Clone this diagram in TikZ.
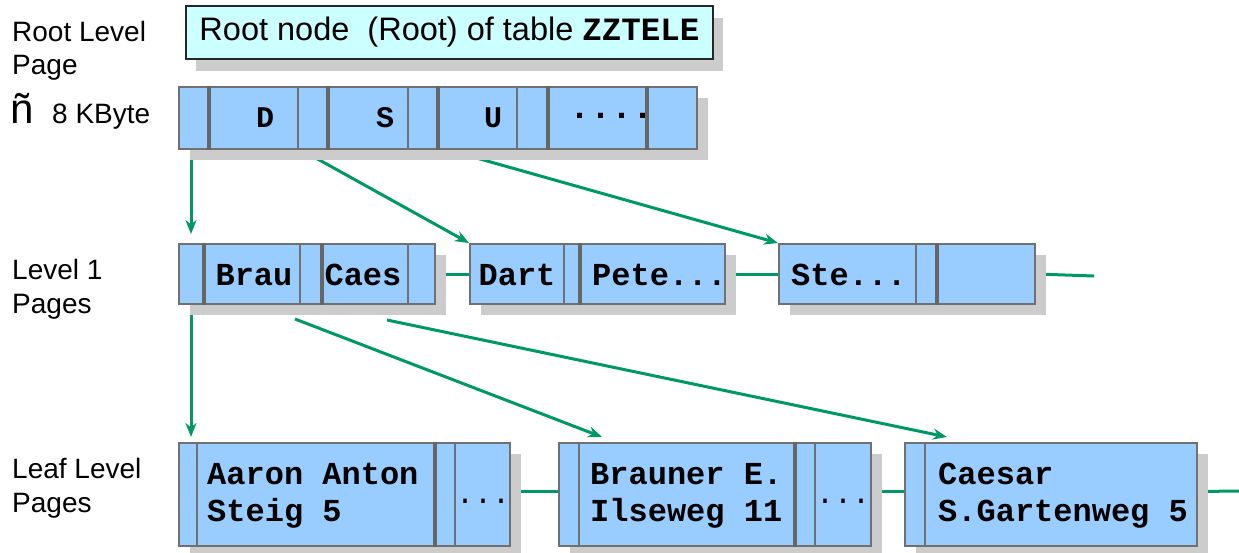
\documentclass[tikz,border=0pt]{standalone}
\usepackage{fontspec}
\setmainfont{Liberation Sans}
\setmonofont{Liberation Mono}
\usetikzlibrary{arrows.meta,shadows}
\pgfdeclarelayer{background}
\pgfsetlayers{background,main}
\definecolor{boxblue}{HTML}{99CCFF}
\definecolor{titlecyan}{HTML}{CCFFFF}
\definecolor{bordergray}{HTML}{707070}
\definecolor{divgray}{HTML}{666666}
\definecolor{shadowgray}{HTML}{CCCCCC}
\definecolor{linkgreen}{HTML}{009966}
\newcommand\pdiv[3]{\draw[#1] (#2,0 |- #3.north) -- (#2,0 |- #3.south);}
\tikzset{
  pagebox/.style={draw=bordergray, line width=2pt, fill=boxblue, inner sep=0pt,
    drop shadow={shadow xshift=11pt, shadow yshift=-11pt, fill=shadowgray, opacity=1}},
  titlebox/.style={draw=black!85, line width=1.3pt, fill=titlecyan, inner sep=0pt,
    minimum width=527pt, minimum height=53pt,
    font=\fontsize{32.5}{35}\selectfont,
    drop shadow={shadow xshift=10pt, shadow yshift=-12pt, fill=shadowgray, opacity=1}},
  thickdiv/.style={draw=divgray, line width=4pt},
  thindiv/.style={draw=bordergray, line width=1.6pt},
  key/.style={font=\ttfamily\bfseries\fontsize{32}{34}\selectfont, inner sep=0pt},
  rkey/.style={font=\ttfamily\bfseries\fontsize{30}{32}\selectfont, inner sep=0pt},
  leaftxt/.style={font=\ttfamily\bfseries\fontsize{32}{34}\selectfont, inner sep=0pt, anchor=base west},
  dots/.style={font=\ttfamily\fontsize{30}{32}\selectfont, inner sep=0pt, anchor=base},
  lbl/.style={font=\fontsize{28}{30}\selectfont, inner sep=0pt, anchor=base west},
  link/.style={draw=linkgreen, line width=3pt},
  arr/.style={draw=linkgreen, line width=3pt, -{Stealth[length=14pt,width=11pt]}}
}
\begin{document}
\begin{tikzpicture}[x=1pt,y=-1pt]
\useasboundingbox (0,0) rectangle (1239,552);

% left labels
\node[lbl] (t1) at (12,41) {Root Level};
\node[lbl] (t2) at (12,74) {Page};
\node[font=\fontsize{42}{44}\selectfont, inner sep=0pt, anchor=base west] (t3) at (10,123) {ñ};
\node[lbl] (t4) at (52,123) {8 KByte};
\node[lbl] (t5) at (12,279) {Level 1};
\node[lbl] (t6) at (12,313) {Pages};
\node[lbl] (t7) at (12,478) {Leaf Level};
\node[lbl] (t8) at (12,512) {Pages};

% title
\node[titlebox] (title) at (449.5,32.5) {Root node\ \ (Root) of table \texttt{\bfseries ZZTELE}};

% root page
\node[pagebox, minimum width=518pt, minimum height=62pt] (rp) at (438,118) {};
\pdiv{thickdiv}{209}{rp}
\pdiv{thindiv}{298}{rp}
\pdiv{thickdiv}{328}{rp}
\pdiv{thindiv}{408}{rp}
\pdiv{thickdiv}{438}{rp}
\pdiv{thindiv}{517}{rp}
\pdiv{thickdiv}{548}{rp}
\pdiv{thickdiv}{647}{rp}
\node[rkey] (kD) at (265,118) {D};
\node[rkey] (kS) at (385,118) {S};
\node[rkey] (kU) at (493,118) {U};
\node[rkey, font=\ttfamily\bfseries\fontsize{35}{36}\selectfont] (kdots) at (611,116) {....};

% level 1 pages
\node[pagebox, minimum width=256pt, minimum height=60pt] (la) at (307,274) {};
\pdiv{thickdiv}{204}{la}
\pdiv{thindiv}{300}{la}
\pdiv{thickdiv}{322}{la}
\pdiv{thindiv}{408}{la}
\node[key] (kBrau) at (254,275) {Brau};
\node[key] (kCaes) at (363,275) {Caes};

\node[pagebox, minimum width=255pt, minimum height=60pt] (lb) at (597.5,274) {};
\pdiv{thindiv}{564}{lb}
\pdiv{thickdiv}{580}{lb}
\node[key] (kDart) at (517,275) {Dart};
\node[key, anchor=west] (kPete) at (592,275) {Pete...};

\node[pagebox, minimum width=256pt, minimum height=60pt] (lc) at (907,274) {};
\pdiv{thindiv}{916}{lc}
\pdiv{thickdiv}{937}{lc}
\node[key, anchor=west] (kSte) at (791,275) {Ste...};
\coordinate (lcend) at (1094,276);

% leaf pages
\node[pagebox, minimum width=331pt, minimum height=103pt] (fa) at (344.5,494.5) {};
\pdiv{thindiv}{197}{fa}
\pdiv{thickdiv}{435}{fa}
\pdiv{thindiv}{455}{fa}
\node[leaftxt] (a1) at (207,484) {Aaron Anton};
\node[leaftxt] (a2) at (207,521) {Steig 5};
\node[dots] (ad) at (483,503) {...};

\node[pagebox, minimum width=312pt, minimum height=103pt] (fb) at (715,494.5) {};
\pdiv{thindiv}{579}{fb}
\pdiv{thickdiv}{795}{fb}
\pdiv{thindiv}{815}{fb}
\node[leaftxt] (b1) at (590,484) {Brauner E.};
\node[leaftxt] (b2) at (590,521) {Ilseweg 11};
\node[dots] (bd) at (843,503) {...};

\node[pagebox, minimum width=292pt, minimum height=103pt] (fc) at (1051,494.5) {};
\pdiv{thindiv}{925}{fc}
\node[leaftxt] (c1) at (938,484) {Caesar};
\node[leaftxt] (c2) at (938,521) {S.Gartenweg 5};
\coordinate (fcend) at (1239,491);

% connector anchor points
\coordinate (r1) at (191,158);
\coordinate (r2) at (314,157);
\coordinate (r3) at (473,157);
\coordinate (e1) at (191,234);
\coordinate (s1) at (191,309);
\coordinate (s2) at (295,319);
\coordinate (s3) at (387,320);
\coordinate (e4) at (191,437);
\coordinate (e5) at (602,437);
\coordinate (e6) at (947,437);

\begin{pgfonlayer}{background}
\draw[link] (la.east) -- (lb.west);
\draw[link] (lb.east) -- (lc.west);
\draw[link] (lc.east) -- (lcend);
\draw[link] ([yshift=3pt]fa.east) -- ([yshift=3pt]fb.west);
\draw[link] ([yshift=3pt]fb.east) -- ([yshift=3pt]fc.west);
\draw[link] ([yshift=3pt]fc.east) -- (fcend);
\draw[arr] (r1) -- (e1);
\draw[arr] (r2) -- (lb.north west);
\draw[arr] (r3) -- (lc.north west);
\draw[arr] (s1) -- (e4);
\draw[arr] (s2) -- (e5);
\draw[arr] (s3) -- (e6);
\end{pgfonlayer}
\end{tikzpicture}
\end{document}
